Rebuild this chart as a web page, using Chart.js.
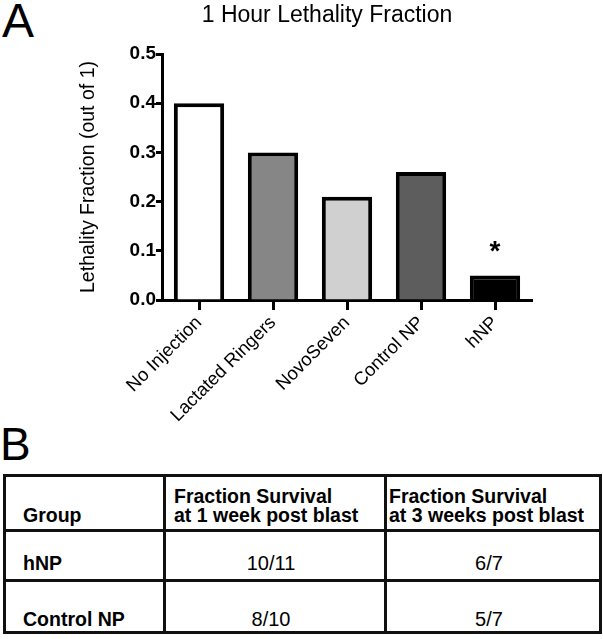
<!DOCTYPE html>
<html>
<head>
<meta charset="utf-8">
<script src="https://cdn.jsdelivr.net/npm/chart.js@4.4.0/dist/chart.umd.min.js"></script>
<style>
    body {
        margin: 0;
        width: 603px;
        height: 639px;
        background: #fff;
        position: relative;
        overflow: hidden;
        font-family: "Liberation Sans", Arial, sans-serif;
        color: #000;
    }
    #wrap { position: absolute; left: 0; top: 0; width: 603px; height: 440px; }
    .panel { position: absolute; font-size: 48px; line-height: 1; }
    #survival {
        position: absolute;
        left: 3px;
        top: 474px;
        width: 596px;
        border-collapse: collapse;
        table-layout: fixed;
        font-size: 19.5px;
    }
    #survival td {
        border: 3px solid #111;
        vertical-align: bottom;
        line-height: 19px;
        padding: 0;
        white-space: pre-line;
    }
    #survival tr.head td { height: 48px; padding-bottom: 4px; font-weight: bold; }
    #survival tr.r1 td { height: 41px; padding-bottom: 6px; }
    #survival tr.r2 td { height: 47px; padding-bottom: 2px; }
    #survival td.grp { font-weight: bold; padding-left: 17px; }
    #survival td.val { text-align: center; padding-right: 8px; font-size: 20px; }
</style>
</head>
<body>
<div class="panel" style="left:2px; top:-3px;">A</div>
<div class="panel" style="left:0px; top:421px; font-size:46px;">B</div>
<div id="wrap"><canvas id="chart" width="603" height="440"></canvas></div>
<table id="survival">
    <colgroup><col style="width:160px"><col style="width:221px"><col style="width:215px"></colgroup>
</table>
<script>
// panel A data
const chartTitle = "1 Hour Lethality Fraction";
const categories = ["No Injection", "Lactated Ringers", "NovoSeven", "Control NP", "hNP"];
const lethality = [0.40, 0.30, 0.21, 0.26, 0.05];
const barColors = ["#ffffff", "#868686", "#d0d0d0", "#5d5d5d", "#000000"];
const significant = [false, false, false, false, true];
const yTicks = [0, 0.1, 0.2, 0.3, 0.4, 0.5];

// panel B data
const headers = ["Group", "Fraction Survival\nat 1 week post blast", "Fraction Survival\nat 3 weeks post blast"];
const groups = ["hNP", "Control NP"];
const survival1wk = ["10/11", "8/10"];
const survival3wk = ["6/7", "5/7"];

const FONT = "'Liberation Sans', Arial, sans-serif";

// title + significance star
const annotate = {
    id: "annotate",
    afterDatasetsDraw(chart) {
        const ctx = chart.ctx;
        ctx.save();
        ctx.fillStyle = "#000";
        ctx.textAlign = "center";
        ctx.textBaseline = "alphabetic";
        ctx.font = "23px " + FONT;
        ctx.fillText(chartTitle, 327, 22);

        ctx.font = "bold 28px " + FONT;
        const meta = chart.getDatasetMeta(0);
        significant.forEach((s, i) => {
            if (!s) return;
            const bar = meta.data[i];
            ctx.fillText("*", bar.x, bar.y - 15);
        });
        ctx.restore();
    }
};

new Chart(document.getElementById("chart"), {
    type: "bar",
    data: {
        labels: categories,
        datasets: [{
            data: lethality,
            backgroundColor: barColors,
            borderColor: "#000",
            borderWidth: 4,
            barPercentage: 0.68,
            categoryPercentage: 1.0
        }]
    },
    options: {
        responsive: false,
        animation: false,
        devicePixelRatio: 1,
        layout: { padding: { top: 54, right: 71, left: 0, bottom: 0 } },
        plugins: {
            legend: { display: false },
            title: { display: false },
            tooltip: { enabled: false }
        },
        scales: {
            x: {
                afterFit: s => { s.height = 140; },
                grid: {
                    display: true,
                    drawOnChartArea: false,
                    drawTicks: true,
                    tickLength: 10,
                    tickWidth: 3,
                    tickColor: "#000",
                    offset: false
                },
                border: { display: true, color: "#000", width: 3 },
                ticks: {
                    autoSkip: false,
                    maxRotation: 45,
                    minRotation: 45,
                    padding: 2,
                    color: "#000",
                    font: { family: FONT, size: 18.5 }
                }
            },
            y: {
                min: 0,
                max: 0.5,
                afterFit: s => { s.width = 162; },
                afterBuildTicks: s => { s.ticks = yTicks.map(v => ({ value: v })); },
                grid: {
                    display: true,
                    drawOnChartArea: false,
                    drawTicks: true,
                    tickLength: 6,
                    tickWidth: 3,
                    tickColor: "#000"
                },
                border: { display: true, color: "#000", width: 3 },
                ticks: {
                    padding: 0,
                    color: "#000",
                    font: { family: FONT, size: 19, weight: "bold" },
                    callback: v => Number(v).toFixed(1)
                },
                title: {
                    display: true,
                    text: "Lethality Fraction (out of 1)",
                    color: "#000",
                    padding: { top: 77, bottom: 0 },
                    font: { family: FONT, size: 19.5 }
                }
            }
        }
    },
    plugins: [annotate]
});

// survival table
const tbl = document.getElementById("survival");
function addRow(cls, cells) {
    const tr = document.createElement("tr");
    tr.className = cls;
    cells.forEach(c => {
        const td = document.createElement("td");
        td.textContent = c.text;
        if (c.cls) td.className = c.cls;
        if (c.style) td.setAttribute("style", c.style);
        tr.appendChild(td);
    });
    tbl.appendChild(tr);
}
addRow("head", [
    { text: headers[0], style: "padding-left:17px" },
    { text: headers[1], style: "padding-left:8px" },
    { text: headers[2], style: "padding-left:2px" }
]);
groups.forEach((g, i) => {
    addRow("r" + (i + 1), [
        { text: g, cls: "grp" },
        { text: survival1wk[i], cls: "val" },
        { text: survival3wk[i], cls: "val" }
    ]);
});
</script>
</body>
</html>
